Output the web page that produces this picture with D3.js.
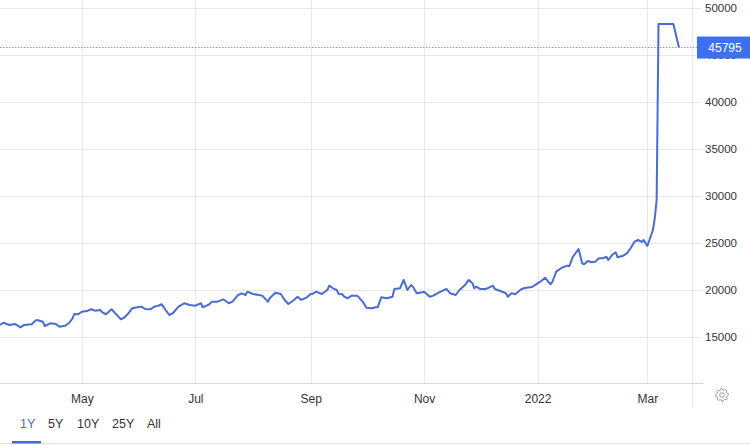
<!DOCTYPE html>
<html>
<head>
<meta charset="utf-8">
<script src="https://cdn.jsdelivr.net/npm/d3@7"></script>
<style>
  html, body { margin: 0; padding: 0; background: #fff; }
  svg { display: block; font-family: "Liberation Sans", Arial, Helvetica, sans-serif; }
</style>
</head>
<body>
<svg id="chart" width="750" height="445"></svg>
<script>
const dates = [
"2021-03-18","2021-03-20","2021-03-22","2021-03-23","2021-03-26","2021-03-29","2021-03-31","2021-04-04","2021-04-06","2021-04-07",
"2021-04-10","2021-04-11","2021-04-14","2021-04-17","2021-04-19","2021-04-22","2021-04-24","2021-04-26","2021-04-27","2021-04-29",
"2021-05-01","2021-05-04","2021-05-06","2021-05-08","2021-05-11","2021-05-12","2021-05-14","2021-05-17","2021-05-19","2021-05-22",
"2021-05-24","2021-05-26","2021-05-28","2021-05-31","2021-06-02","2021-06-04","2021-06-07","2021-06-09","2021-06-11","2021-06-13",
"2021-06-15","2021-06-17","2021-06-19","2021-06-22","2021-06-25","2021-06-28","2021-07-01","2021-07-04","2021-07-05","2021-07-08",
"2021-07-10","2021-07-13","2021-07-16","2021-07-19","2021-07-21","2021-07-24","2021-07-26","2021-07-28","2021-07-29","2021-08-01",
"2021-08-04","2021-08-06","2021-08-09","2021-08-10","2021-08-13","2021-08-16","2021-08-18","2021-08-20","2021-08-23","2021-08-25",
"2021-08-27","2021-08-30","2021-09-01","2021-09-02","2021-09-04","2021-09-07","2021-09-10","2021-09-11","2021-09-13","2021-09-15",
"2021-09-16","2021-09-18","2021-09-19","2021-09-21","2021-09-23","2021-09-26","2021-09-29","2021-10-01","2021-10-04","2021-10-06",
"2021-10-07","2021-10-09","2021-10-12","2021-10-15","2021-10-16","2021-10-19","2021-10-21","2021-10-23","2021-10-25","2021-10-26",
"2021-10-28","2021-10-31","2021-11-01","2021-11-04","2021-11-06","2021-11-08","2021-11-11","2021-11-13","2021-11-15","2021-11-18",
"2021-11-20","2021-11-23","2021-11-25","2021-11-27","2021-11-28","2021-11-29","2021-12-01","2021-12-04","2021-12-05","2021-12-08",
"2021-12-09","2021-12-12","2021-12-15","2021-12-16","2021-12-18","2021-12-20","2021-12-23","2021-12-25","2021-12-29","2022-01-01",
"2022-01-03","2022-01-05","2022-01-07","2022-01-08","2022-01-09","2022-01-11","2022-01-14","2022-01-17","2022-01-18","2022-01-20",
"2022-01-23","2022-01-25","2022-01-26","2022-01-28","2022-01-30","2022-02-01","2022-02-03","2022-02-05","2022-02-07","2022-02-08",
"2022-02-10","2022-02-12","2022-02-13","2022-02-16","2022-02-18","2022-02-20","2022-02-22","2022-02-24","2022-02-26","2022-02-27",
"2022-03-01","2022-03-04","2022-03-05","2022-03-06","2022-03-07","2022-03-15","2022-03-18"
];
const values = [
16280,16520,16350,16280,16390,16030,16280,16350,16740,16810,
16630,16170,16460,16380,16100,16200,16460,16990,17450,17420,
17690,17770,17950,17800,17870,17630,17420,17950,17520,16880,
17100,17520,18050,18160,18230,17980,17950,18230,18330,18480,
17870,17340,17550,18230,18590,18410,18330,18590,18160,18410,
18760,18760,19010,18590,18760,19470,19650,19470,19820,19580,
19470,19400,18760,19120,19710,19580,18940,18510,18940,19290,
18940,19220,19580,19580,19820,19580,20000,20460,20180,20000,
19580,19550,19290,19120,19400,19400,18760,18120,18050,18160,
18160,19220,19120,19290,20110,20180,21070,20000,20530,20350,
19650,19760,19820,19290,19400,19650,19930,20110,19650,19470,
20000,20530,21070,20710,20180,20350,20110,20110,20180,20460,
20110,19890,19650,19290,19650,19550,20050,20210,20320,20710,
20960,21310,20820,20610,20880,21950,22370,22590,22520,23540,
24360,22840,22730,23090,22950,23010,23370,23370,23540,23190,
23720,24010,23480,23650,23900,24440,25110,25320,25110,25320,
24680,26380,27660,29580,48300,48300,45795
];
const yTicks = [15000, 20000, 25000, 30000, 35000, 40000, 45000, 50000];
const xTicks = ["2021-05-01","2021-07-01","2021-09-01","2021-11-01","2022-01-01","2022-03-01"];
const rangeButtons = ["1Y", "5Y", "10Y", "25Y", "All"];
const lastValue = 45795;

const parse = d3.timeParse("%Y-%m-%d");
const data = dates.map((d, i) => ({date: parse(d), value: values[i]}));

const svg = d3.select("#chart");
const plotRight = 692.5;
const axisY = 383.5;

const x = d3.scaleTime()
  .domain([parse("2021-03-18"), parse("2022-03-25")])
  .range([0, 692]);
const y = d3.scaleLinear()
  .domain([10000, 50000])
  .range([384, 8]);

const gridColor = "#e8e8e8";

// vertical gridlines
svg.append("g").selectAll("line")
  .data(xTicks.map(parse))
  .join("line")
  .attr("x1", d => Math.round(x(d)) + 0.5)
  .attr("x2", d => Math.round(x(d)) + 0.5)
  .attr("y1", 0).attr("y2", axisY)
  .attr("stroke", gridColor).attr("stroke-width", 1);

// horizontal gridlines
svg.append("g").selectAll("line")
  .data(yTicks)
  .join("line")
  .attr("x1", 0).attr("x2", 702)
  .attr("y1", d => Math.round(y(d)) + 0.5)
  .attr("y2", d => Math.round(y(d)) + 0.5)
  .attr("stroke", gridColor).attr("stroke-width", 1);

// right border line
svg.append("line")
  .attr("x1", plotRight).attr("x2", plotRight)
  .attr("y1", 0).attr("y2", 407)
  .attr("stroke", gridColor);

// bottom axis line
svg.append("line")
  .attr("x1", 0).attr("x2", 703)
  .attr("y1", axisY).attr("y2", axisY)
  .attr("stroke", "#d6d6d6").attr("stroke-width", 1.2);

// x axis labels
const xAxis = d3.axisBottom(x)
  .tickValues(xTicks.map(parse))
  .tickSize(0)
  .tickPadding(0)
  .tickFormat(d => d.getMonth() === 0 ? d3.timeFormat("%Y")(d) : d3.timeFormat("%b")(d));
const gx = svg.append("g").attr("transform", `translate(0,${axisY})`).call(xAxis);
gx.select(".domain").remove();
gx.selectAll("text")
  .attr("y", 19).attr("dy", 0)
  .attr("font-size", 12)
  .attr("font-family", "'Liberation Sans', Arial, sans-serif")
  .attr("fill", "#333");

// y axis labels
const yAxis = d3.axisRight(y)
  .tickValues(yTicks)
  .tickSize(0)
  .tickPadding(0)
  .tickFormat(d3.format("d"));
const gy = svg.append("g").attr("transform", `translate(705,0)`).call(yAxis);
gy.select(".domain").remove();
gy.selectAll("text")
  .attr("x", 0)
  .attr("font-size", 11.5)
  .attr("font-family", "'Liberation Sans', Arial, sans-serif")
  .attr("fill", "#333");

// dotted last-value line
svg.append("line")
  .attr("x1", 0).attr("x2", 697)
  .attr("y1", y(lastValue)).attr("y2", y(lastValue))
  .attr("stroke", "#8a97b8").attr("stroke-width", 1)
  .attr("stroke-dasharray", "1.5,1.5");

// series line
const line = d3.line()
  .x(d => x(d.date))
  .y(d => y(d.value));
svg.append("path")
  .datum(data)
  .attr("fill", "none")
  .attr("stroke", "#4a6bd1")
  .attr("stroke-width", 2)
  .attr("stroke-linejoin", "round")
  .attr("d", line);

// last value label
const ly = y(lastValue);
svg.append("rect")
  .attr("x", 697).attr("y", ly - 11)
  .attr("width", 53).attr("height", 22)
  .attr("fill", "#3d6ff0");
svg.append("text")
  .attr("x", 725).attr("y", ly)
  .attr("dy", "0.35em")
  .attr("text-anchor", "middle")
  .attr("font-size", 12)
  .attr("fill", "#fff")
  .text(d3.format("d")(lastValue));

// gear icon
(function gear(cx, cy) {
  const teeth = 8, rOut = 6.5, rIn = 5;
  const pts = [];
  for (let i = 0; i < teeth * 4; i++) {
    const a = (i / (teeth * 4)) * Math.PI * 2;
    const r = (Math.floor((i + 1) / 2) % 2 === 0) ? rOut : rIn;
    pts.push([cx + r * Math.cos(a), cy + r * Math.sin(a)]);
  }
  svg.append("path")
    .attr("d", "M" + pts.map(p => p.join(",")).join("L") + "Z")
    .attr("fill", "none").attr("stroke", "#a0a0a0").attr("stroke-width", 1);
  svg.append("circle").attr("cx", cx).attr("cy", cy).attr("r", 2.3)
    .attr("fill", "none").attr("stroke", "#a0a0a0").attr("stroke-width", 1);
})(722, 395);

// range buttons
const btnX = [20, 48, 77, 112, 147];
svg.append("g").selectAll("text")
  .data(rangeButtons)
  .join("text")
  .attr("x", (d, i) => btnX[i])
  .attr("y", 428)
  .attr("font-size", 12.5)
  .attr("fill", (d, i) => i === 0 ? "#4a6bd1" : "#333")
  .text(d => d);

// bottom line and active underline
svg.append("line")
  .attr("x1", 0).attr("x2", 750)
  .attr("y1", 443.5).attr("y2", 443.5)
  .attr("stroke", "#e2e2e2");
svg.append("rect")
  .attr("x", 12).attr("y", 441)
  .attr("width", 29).attr("height", 2.5)
  .attr("fill", "#4a6bd1");
</script>
</body>
</html>
